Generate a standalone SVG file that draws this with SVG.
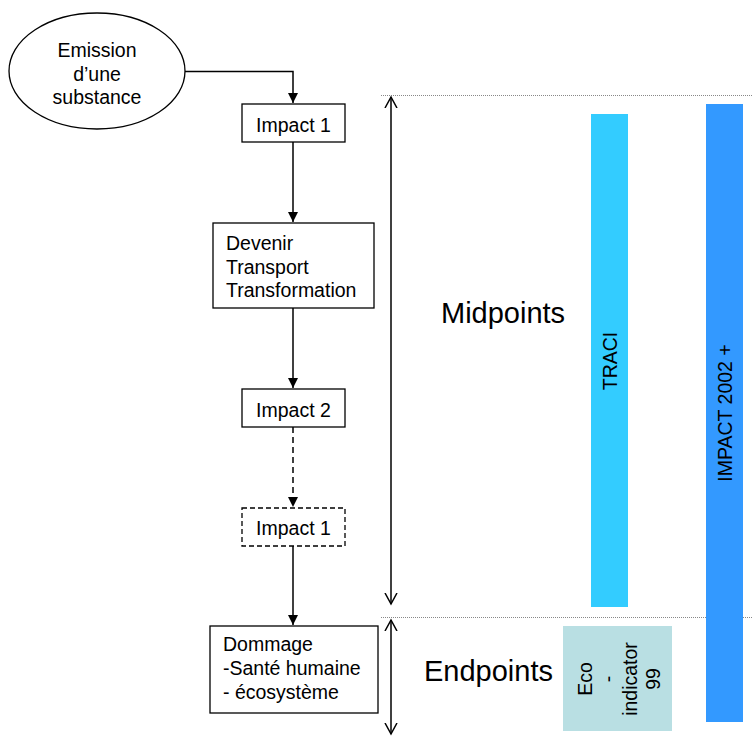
<svg xmlns="http://www.w3.org/2000/svg" width="752" height="736" viewBox="0 0 752 736">
<style>
text{font-family:"Liberation Sans",Arial,sans-serif;fill:#000}
.t{font-size:19.5px}
.big{font-size:29px}
.box{fill:#fff;stroke:#000;stroke-width:1.3}
.dbox{fill:#fff;stroke:#000;stroke-width:1.3;stroke-dasharray:5 3}
.ln{fill:none;stroke:#000;stroke-width:1.5}
.dl{fill:none;stroke:#000;stroke-width:1.5;stroke-dasharray:6 4}
.dot{fill:none;stroke:#888;stroke-width:1;stroke-dasharray:1 1}
</style>
<defs>
<marker id="ah" markerWidth="11" markerHeight="11" refX="10" refY="5" orient="auto" markerUnits="userSpaceOnUse">
<path d="M0,0 L10,5 L0,10 z" fill="#000"/>
</marker>
<marker id="oh" markerWidth="14" markerHeight="14" refX="11" refY="7" orient="auto" markerUnits="userSpaceOnUse">
<path d="M0,1 L11,7 L0,13" fill="none" stroke="#000" stroke-width="1.5"/>
</marker>
</defs>

<g id="guides">
<line class="dot" x1="381" y1="95.5" x2="752" y2="95.5"/>
<line class="dot" x1="381" y1="617.5" x2="752" y2="617.5"/>
</g>

<g id="bars">
<rect id="traci" x="591" y="114" width="37" height="493" fill="#33CCFF"/>
<text class="t" transform="translate(617,361) rotate(-90)" text-anchor="middle">TRACI</text>
<rect id="impact2002" x="706" y="104" width="37" height="618" fill="#3399FF"/>
<text class="t" transform="translate(732,413) rotate(-90)" text-anchor="middle">IMPACT 2002 +</text>
<g id="eco">
<rect x="563" y="626" width="109" height="105" fill="#B9DFE3"/>
<text class="t" transform="translate(592,679) rotate(-90)" text-anchor="middle">Eco</text>
<text class="t" transform="translate(614.5,679) rotate(-90)" text-anchor="middle">-</text>
<text class="t" transform="translate(637,679) rotate(-90)" text-anchor="middle">indicator</text>
<text class="t" transform="translate(659.5,679) rotate(-90)" text-anchor="middle">99</text>
</g>
</g>

<g id="labels">
<text class="big" x="441" y="323">Midpoints</text>
<text class="big" x="424" y="681">Endpoints</text>
</g>

<g id="connectors">
<path class="ln" d="M185,71.5 H293 V103" marker-end="url(#ah)"/>
<line class="ln" x1="293" y1="142" x2="293" y2="222" marker-end="url(#ah)"/>
<line class="ln" x1="293" y1="308" x2="293" y2="388" marker-end="url(#ah)"/>
<line class="dl" x1="293" y1="427" x2="293" y2="507" marker-end="url(#ah)"/>
<line class="ln" x1="293" y1="546" x2="293" y2="625" marker-end="url(#ah)"/>
<line class="ln" x1="391" y1="350" x2="391" y2="97" marker-end="url(#oh)"/>
<line class="ln" x1="391" y1="350" x2="391" y2="604" marker-end="url(#oh)"/>
<line class="ln" x1="391" y1="676" x2="391" y2="620" marker-end="url(#oh)"/>
<line class="ln" x1="391" y1="676" x2="391" y2="734" marker-end="url(#oh)"/>
</g>

<g id="emission">
<ellipse cx="97" cy="71" rx="88" ry="58" fill="#fff" stroke="#000" stroke-width="1.3"/>
<text class="t" x="97" y="57" text-anchor="middle">Emission</text>
<text class="t" x="97" y="81" text-anchor="middle">d’une</text>
<text class="t" x="97" y="104" text-anchor="middle">substance</text>
</g>

<g id="impact1">
<rect class="box" x="242" y="104" width="103" height="38"/>
<text class="t" x="293.5" y="132" text-anchor="middle">Impact 1</text>
</g>

<g id="devenir">
<rect class="box" x="213" y="223" width="161" height="85"/>
<text class="t" x="226" y="250">Devenir</text>
<text class="t" x="226" y="274">Transport</text>
<text class="t" x="226" y="297">Transformation</text>
</g>

<g id="impact2">
<rect class="box" x="242" y="389" width="103" height="38"/>
<text class="t" x="293.5" y="417" text-anchor="middle">Impact 2</text>
</g>

<g id="impact1b">
<rect class="dbox" x="242" y="508" width="103" height="38"/>
<text class="t" x="293.5" y="535" text-anchor="middle">Impact 1</text>
</g>

<g id="dommage">
<rect class="box" x="210" y="626" width="168" height="87"/>
<text class="t" x="223" y="651">Dommage</text>
<text class="t" x="223" y="675">-Santé humaine</text>
<text class="t" x="223" y="699">- écosystème</text>
</g>
</svg>
